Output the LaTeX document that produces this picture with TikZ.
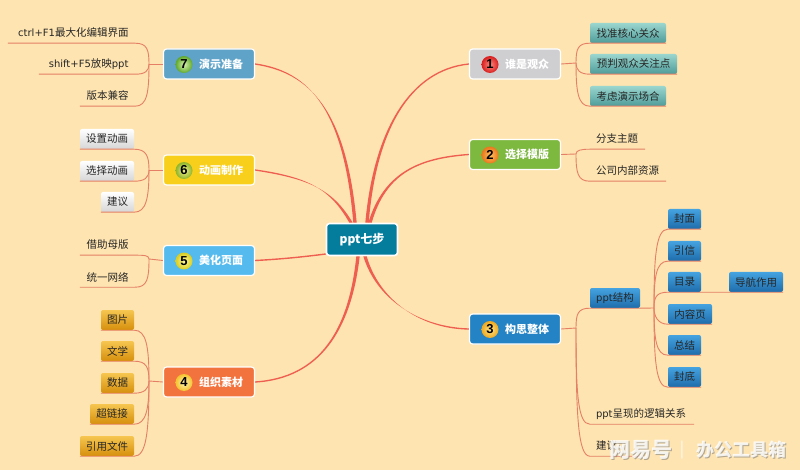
\documentclass[tikz,border=0pt]{standalone}
\usepackage{fontspec}
\setmainfont{Noto Sans CJK SC}
\newfontfamily\numfont{Liberation Sans}
\newfontfamily\latfamily{DejaVu Sans}
\newcommand\latf[1]{{\latfamily\fontsize{10}{13}\selectfont #1}}
\usetikzlibrary{calc}
\definecolor{bgc}{HTML}{FEE4B0}
\definecolor{mainred}{HTML}{EE5F52}
\definecolor{subred}{HTML}{E57F66}
\definecolor{cm}{HTML}{047D9D}
\definecolor{c1}{HTML}{CFCFD2}
\definecolor{c2}{HTML}{7DB83F}
\definecolor{c3}{HTML}{2383C5}
\definecolor{c4}{HTML}{F3733F}
\definecolor{c5}{HTML}{55BBEE}
\definecolor{c6}{HTML}{F8D01C}
\definecolor{c7}{HTML}{5FA3C9}
\definecolor{tealT}{HTML}{9AD6CE}
\definecolor{tealB}{HTML}{4F9C9A}
\definecolor{blueT}{HTML}{45A3E0}
\definecolor{blueB}{HTML}{1E6CAB}
\definecolor{goldT}{HTML}{F6C650}
\definecolor{goldB}{HTML}{D68F0C}
\definecolor{greyT}{HTML}{FFFFFF}
\definecolor{greyB}{HTML}{D6D6D6}
\definecolor{b7i}{HTML}{D8F2B0}\definecolor{b7o}{HTML}{5FA82C}
\definecolor{b6i}{HTML}{F4F08A}\definecolor{b6o}{HTML}{8FB42A}
\definecolor{b5i}{HTML}{FFFBA0}\definecolor{b5o}{HTML}{D8CC1E}
\definecolor{b4i}{HTML}{FFF6B0}\definecolor{b4o}{HTML}{F4C22E}
\definecolor{b3i}{HTML}{FFE88C}\definecolor{b3o}{HTML}{EFA81E}
\definecolor{b2i}{HTML}{FFC060}\definecolor{b2o}{HTML}{E8781C}
\definecolor{b1i}{HTML}{FF8A80}\definecolor{b1o}{HTML}{D81E1E}
\tikzset{
  x=1pt,y=-1pt,
  mainline/.style={draw=none,fill=mainred},
  mainthin/.style={draw=mainred,line width=1.4pt},
  subline/.style={draw=subred,line width=.9pt},
  centerbox/.style={draw=white,line width=1.6pt,rounded corners=3pt,fill=cm,minimum width=71pt,minimum height=32pt,inner sep=0pt,text=white,font=\fontsize{12}{14}\selectfont\bfseries},
  topicbox/.style={draw=white,line width=1.2pt,rounded corners=3pt,fill=#1,minimum width=91pt,minimum height=30pt,inner sep=0pt},
  topictext/.style={text=white,inner sep=0pt,font=\fontsize{11}{13}\selectfont\bfseries},
  badge/.style 2 args={circle,minimum size=17pt,inner sep=0pt,shade,inner color=#1,outer color=#2,draw=none,text=black,font=\numfont\fontsize{13}{13}\selectfont\bfseries},
  childfont/.style={font=\fontsize{10.5}{13}\selectfont,text=black!85},
  leafbox/.style 2 args={rounded corners=2pt,top color=#1,bottom color=#2},
  wm/.style={inner sep=0pt,text=white,opacity=.85,font=\bfseries},
  wmshadow/.style={inner sep=0pt,text=black!55,opacity=.55,font=\bfseries},
}
% name, x-left, x-right, y-top, y-bottom, options, text
\newcommand\mmnode[7]{%
  \pgfmathsetlengthmacro\mmw{(#3)-(#2)}%
  \pgfmathsetlengthmacro\mmh{(#5)-(#4)}%
  \pgfmathsetlengthmacro\mmcx{((#2)+(#3))/2}%
  \pgfmathsetlengthmacro\mmcy{((#4)+(#5))/2}%
  \node[childfont,inner sep=0pt,minimum width=\mmw,minimum height=\mmh,#6] (#1) at (\mmcx,-\mmcy) {#7};}
% plain leaf: name, x-left, x-right, underline y, text
\newcommand\mmleft[5]{%
  \pgfmathsetlengthmacro\mmt{(#3)-(#2)-13}%
  \mmnode{#1}{#2}{#3}{#4-20}{#4}{text width=\mmt,align=right}{#5}}
\newcommand\mmright[5]{%
  \pgfmathsetlengthmacro\mmt{(#3)-(#2)-12}%
  \mmnode{#1}{#2}{#3}{#4-20}{#4}{text width=\mmt,align=left}{#5}}
% box leaf: name, x-left, x-right, y-top, top colour, bottom colour, text
\newcommand\mmbox[7]{%
  \mmnode{#1}{#2}{#3}{#4}{#4+20}{leafbox={#5}{#6}}{#7}}
% topic: name, left, top, fill, number, inner, outer, text
\newcommand\mmtopic[8]{%
  \node[topicbox=#4] (#1) at (#2+46,#3+15) {};
  \node[badge={#6}{#7}] (#1n) at (#2+21,#3+15.5) {#5};
  \node[topictext] (#1t) at (#2+58,#3+15) {#8};}
% tapered main branch: start, c1, c2, end
\newcommand\mmbranch[4]{%
  \path[mainline] ($#1+(-1.7,0)$) .. controls ($(#2)+(-1.3,0)$) and ($(#3)+(0,-.9)$) .. ($(#4)+(0,-.65)$) -- ($(#4)+(0,.65)$) .. controls ($(#3)+(0,.9)$) and ($(#2)+(1.3,0)$) .. ($#1+(1.7,0)$) -- cycle;}
% sub branch: junction, dy, near anchor, far anchor, reach
\newcommand\mmsub[5]{%
  \draw[subline] (#1) .. controls +(0,#2) and +(#5,0) .. (#3) -- (#4);}
\begin{document}
\begin{tikzpicture}
\useasboundingbox (0,0) rectangle (800,470);
\fill[bgc] (0,0) rectangle (800,470);

% centre and topics
\node[centerbox] (m) at (362,239.5) {ppt七步};
\mmtopic{t7}{163}{49}{c7}{7}{b7i}{b7o}{演示准备}
\mmtopic{t6}{163}{155}{c6}{6}{b6i}{b6o}{动画制作}
\mmtopic{t5}{163}{245.5}{c5}{5}{b5i}{b5o}{美化页面}
\mmtopic{t4}{163}{367}{c4}{4}{b4i}{b4o}{组织素材}
\mmtopic{t1}{469}{49}{c1}{1}{b1i}{b1o}{谁是观众}
\mmtopic{t2}{469}{139.5}{c2}{2}{b2i}{b2o}{选择模版}
\mmtopic{t3}{469}{314}{c3}{3}{b3i}{b3o}{构思整体}

% main branches
\mmbranch{(m.north)+(-7,0)}{345,110}{310,72}{t7.east}
\mmbranch{(m.north)+(-11,0)}{332,190}{310,178}{t6.east}
\mmbranch{(m.south)+(-4,0)}{350,330}{320,378}{t4.east}
\mmbranch{(m.north)+(5,0)}{375,130}{410,70}{t1.west}
\mmbranch{(m.north)+(8,0)}{385,172}{420,158}{t2.west}
\mmbranch{(m.south)+(3,0)}{378,300}{420,328}{t3.west}
\draw[mainthin] (m.west |- 0,254) .. controls (310,256) and (285,259) .. (t5.east);

% junctions
\coordinate (j7) at (149,64);
\coordinate (j6) at (149,170);
\coordinate (j5) at (149,259);
\coordinate (j4) at (149,381);
\coordinate (j1) at (576,63);
\coordinate (j2) at (576,154);
\coordinate (j3) at (576,328);
\coordinate (j3a) at (654,308);
\foreach \t/\j in {t7/j7,t6/j6,t5/j5,t4/j4}{\draw[subline] (\t.west) -- (\j);}
\foreach \t/\j in {t1/j1,t2/j2,t3/j3}{\draw[subline] (\t.east) -- (\j);}

% 7
\mmleft{a71}{8}{135}{43}{\latf{ctrl+F1}最大化编辑界面}
\mmleft{a72}{39}{135}{74}{\latf{shift+F5}放映\latf{ppt}}
\mmleft{a73}{80}{135}{106}{版本兼容}
\mmsub{j7}{-14}{a71.south east}{a71.south west}{12}
\mmsub{j7}{7}{a72.south east}{a72.south west}{10}
\mmsub{j7}{28}{a73.south east}{a73.south west}{12}
% 6
\mmbox{a61}{80}{134}{129}{greyT}{greyB}{设置动画}
\mmbox{a62}{80}{134}{161}{greyT}{greyB}{选择动画}
\mmbox{a63}{101}{134}{192}{greyT}{greyB}{建议}
\mmsub{j6}{-14}{a61.south east}{a61.south west}{12}
\mmsub{j6}{8}{a62.south east}{a62.south west}{10}
\mmsub{j6}{28}{a63.south east}{a63.south west}{12}
% 5
\mmleft{a51}{80}{135}{255}{借助母版}
\mmleft{a52}{80}{135}{287}{统一网络}
\mmsub{j5}{-4}{a51.south east}{a51.south west}{8}
\mmsub{j5}{20}{a52.south east}{a52.south west}{12}
% 4
\mmbox{a41}{101}{134}{310}{goldT}{goldB}{图片}
\mmbox{a42}{101}{134}{341}{goldT}{goldB}{文学}
\mmbox{a43}{101}{134}{373}{goldT}{goldB}{数据}
\mmbox{a44}{90}{134}{404}{goldT}{goldB}{超链接}
\mmbox{a45}{80}{134}{436}{goldT}{goldB}{引用文件}
\mmsub{j4}{-35}{a41.south east}{a41.south west}{12}
\mmsub{j4}{-14}{a42.south east}{a42.south west}{12}
\mmsub{j4}{8}{a43.south east}{a43.south west}{10}
\mmsub{j4}{28}{a44.south east}{a44.south west}{12}
\mmsub{j4}{52}{a45.south east}{a45.south west}{12}
% 1
\mmbox{b11}{590}{666}{23}{tealT}{tealB}{找准核心关众}
\mmbox{b12}{590}{677}{54}{tealT}{tealB}{预判观众关注点}
\mmbox{b13}{590}{666}{86}{tealT}{tealB}{考虑演示场合}
\mmsub{j1}{-14}{b11.south west}{b11.south east}{-12}
\mmsub{j1}{7}{b12.south west}{b12.south east}{-10}
\mmsub{j1}{28}{b13.south west}{b13.south east}{-12}
% 2
\mmright{b21}{590}{645}{149}{分支主题}
\mmright{b22}{590}{666}{181}{公司内部资源}
\mmsub{j2}{-4}{b21.south west}{b21.south east}{-8}
\mmsub{j2}{19}{b22.south west}{b22.south east}{-12}
% 3
\mmbox{b31}{590}{640}{288}{blueT}{blueB}{\latf{ppt}结构}
\mmright{b32}{590}{694}{424}{\latf{ppt}呈现的逻辑关系}
\mmright{b33}{590}{640}{456}{建议}
\mmsub{j3}{-14}{b31.south west}{b31.south east}{-12}
\mmsub{j3}{65}{b32.south west}{b32.south east}{-12}
\mmsub{j3}{85}{b33.south west}{b33.south east}{-12}
\draw[subline] (b31.south east) -- (j3a);
\mmbox{b41}{668}{701}{209}{blueT}{blueB}{封面}
\mmbox{b42}{668}{701}{241}{blueT}{blueB}{引信}
\mmbox{b43}{668}{701}{272}{blueT}{blueB}{目录}
\mmbox{b44}{668}{712}{304}{blueT}{blueB}{内容页}
\mmbox{b45}{668}{701}{335}{blueT}{blueB}{总结}
\mmbox{b46}{668}{701}{367}{blueT}{blueB}{封底}
\mmbox{b47}{729}{783}{272}{blueT}{blueB}{导航作用}
\mmsub{j3a}{-50}{b41.south west}{b41.south east}{-12}
\mmsub{j3a}{-30}{b42.south west}{b42.south east}{-12}
\mmsub{j3a}{-10}{b43.south west}{b47.south east}{-12}
\mmsub{j3a}{8}{b44.south west}{b44.south east}{-10}
\mmsub{j3a}{30}{b45.south west}{b45.south east}{-12}
\mmsub{j3a}{52}{b46.south west}{b46.south east}{-12}

% watermark
\node[wmshadow,font=\bfseries\fontsize{21}{21}\selectfont] at (642,451) {网易号};
\node[wm,font=\bfseries\fontsize{21}{21}\selectfont] (w1) at (641,450) {网易号};
\node[wm,font=\fontsize{16}{16}\selectfont] (w2) at (682,450) {|};
\node[wmshadow,font=\bfseries\fontsize{18}{18}\selectfont] at (742,451) {办公工具箱};
\node[wm,font=\bfseries\fontsize{18}{18}\selectfont] (w3) at (741,450) {办公工具箱};
\end{tikzpicture}
\end{document}
